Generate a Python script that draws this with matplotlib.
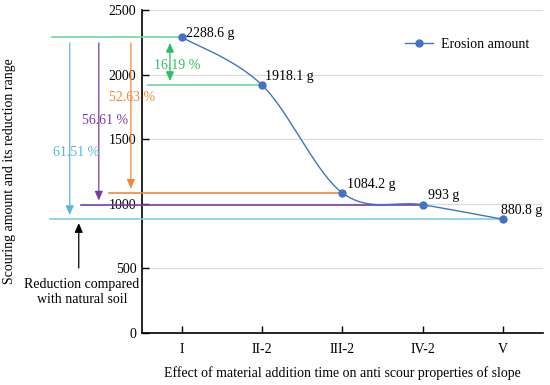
import numpy as np
import matplotlib
matplotlib.use("Agg")
import matplotlib.pyplot as plt

plt.rcParams['font.family'] = ['Liberation Serif', 'DejaVu Serif']
plt.rcParams['font.size'] = 10

# data
categories = ['I', 'II-2', 'III-2', 'IV-2', 'V']
erosion = [2288.6, 1918.1, 1084.2, 993, 880.8]
point_labels = ['2288.6 g', '1918.1 g', '1084.2 g', '993 g', '880.8 g']
reductions = ['16.19 %', '52.63 %', '56.61 %', '61.51 %']
yticks = [0, 500, 1000, 1500, 2000, 2500]

BLUE = '#4472C4'


def smooth_curve(xs, ys, n=40):
    """Catmull-Rom style bezier, like a spreadsheet smoothed line."""
    pts = np.column_stack([xs, ys]).astype(float)
    ext = np.vstack([pts[0], pts, pts[-1]])
    out = []
    for i in range(len(pts) - 1):
        p0, p1, p2, p3 = ext[i], ext[i + 1], ext[i + 2], ext[i + 3]
        c1 = p1 + (p2 - p0) / 6
        c2 = p2 - (p3 - p1) / 6
        t = np.linspace(0, 1, n)[:, None]
        seg = ((1 - t) ** 3) * p1 + 3 * ((1 - t) ** 2) * t * c1 \
            + 3 * (1 - t) * t ** 2 * c2 + t ** 3 * p2
        out.append(seg)
    curve = np.vstack(out)
    return curve[:, 0], curve[:, 1]


def arrow(ax, x, y0, y1, color, style='-|>'):
    ax.annotate('', xy=(x, y1), xytext=(x, y0), annotation_clip=False,
                arrowprops=dict(arrowstyle=style + ',head_length=0.55,head_width=0.24',
                                color=color, lw=0.9, shrinkA=4, shrinkB=3))


fig = plt.figure(figsize=(5.5, 3.85), dpi=100)
ax = fig.add_axes([0.258, 0.135, 0.729, 0.839])

x = np.arange(len(categories))
sx, sy = smooth_curve(x, erosion)
ax.plot(sx, sy, color=BLUE, lw=1.0, zorder=4)
ax.plot(x, erosion, 'o', color=BLUE, ms=5, zorder=5)
ax.plot([], [], '-o', color=BLUE, ms=5, lw=1.0, label='Erosion amount')

offsets = [(3, 3), (2, 6), (3, 6), (4, 7), (-1, 6)]
for xi, yi, lab, off in zip(x, erosion, point_labels, offsets):
    ax.annotate(lab, (xi, yi), xytext=off, textcoords='offset points',
                ha='left', va='center', fontsize=10, zorder=6)

ax.set_xlim(-0.5, 4.5)
ax.set_ylim(0, 2500)
ax.set_xticks(x)
ax.set_xticklabels(categories)
ax.set_yticks(yticks)
ax.tick_params(direction='in', length=5, width=1.0, colors='black', pad=4)
ax.tick_params(axis='x', pad=7)
ax.yaxis.grid(True, color='#DCDCDC', lw=0.9)
ax.set_axisbelow(True)
for s in ['top', 'right']:
    ax.spines[s].set_visible(False)
for s in ['left', 'bottom']:
    ax.spines[s].set_linewidth(1.2)

# reference lines for reductions
GREEN_L, GREEN = '#6FD9A0', '#2DBE60'
ORANGE = '#F0883A'
PURPLE = '#7A3DA8'
CYAN_L, CYAN = '#7CCFE0', '#58B8D8'

kw = dict(clip_on=False, zorder=3, lw=1.2)
ax.plot([-1.625, 0], [erosion[0]] * 2, color=GREEN_L, **kw)
ax.plot([-0.425, 1], [erosion[1]] * 2, color=GREEN_L, **kw)
ax.plot([-0.9125, 2], [erosion[2]] * 2, color=ORANGE, **kw)
ax.plot([-1.2625, 3], [erosion[3]] * 2, color=PURPLE, **kw)
ax.plot([-1.65, 4], [erosion[4]] * 2, color=CYAN_L, **kw)

arrow(ax, -0.15, erosion[0], erosion[1], GREEN, style='<|-|>')
arrow(ax, -0.6375, erosion[0], erosion[2], ORANGE)
arrow(ax, -1.0375, erosion[0], erosion[3], PURPLE)
arrow(ax, -1.4, erosion[0], erosion[4], CYAN)

ax.text(-0.0625, 2074, reductions[0], color=GREEN, ha='center', va='center')
ax.text(-0.625, 1819, reductions[1], color=ORANGE, ha='center', va='center')
ax.text(-0.9625, 1641, reductions[2], color=PURPLE, ha='center', va='center')
ax.text(-1.325, 1401, reductions[3], color=CYAN, ha='center', va='center')

ax.annotate('', xy=(-1.2875, 851), xytext=(-1.2875, 503), annotation_clip=False,
            arrowprops=dict(arrowstyle='-|>,head_length=0.55,head_width=0.24',
                            color='black', lw=0.9, shrinkA=0, shrinkB=0))
fig.text(0.149, 0.241, 'Reduction compared\nwith natural soil', ha='center',
         va='center', linespacing=1.25)

ax.legend(loc='upper right', bbox_to_anchor=(0.985, 0.935),
          bbox_transform=fig.transFigure, frameon=False, handlelength=2.0,
          handletextpad=0.6)

fig.text(0.018, 0.556, 'Scouring amount and its reduction range', rotation=90,
         ha='center', va='center')
fig.text(0.622, 0.031, 'Effect of material addition time on anti scour properties of slope',
         ha='center', va='center')

fig.savefig('out.png', dpi=100)
